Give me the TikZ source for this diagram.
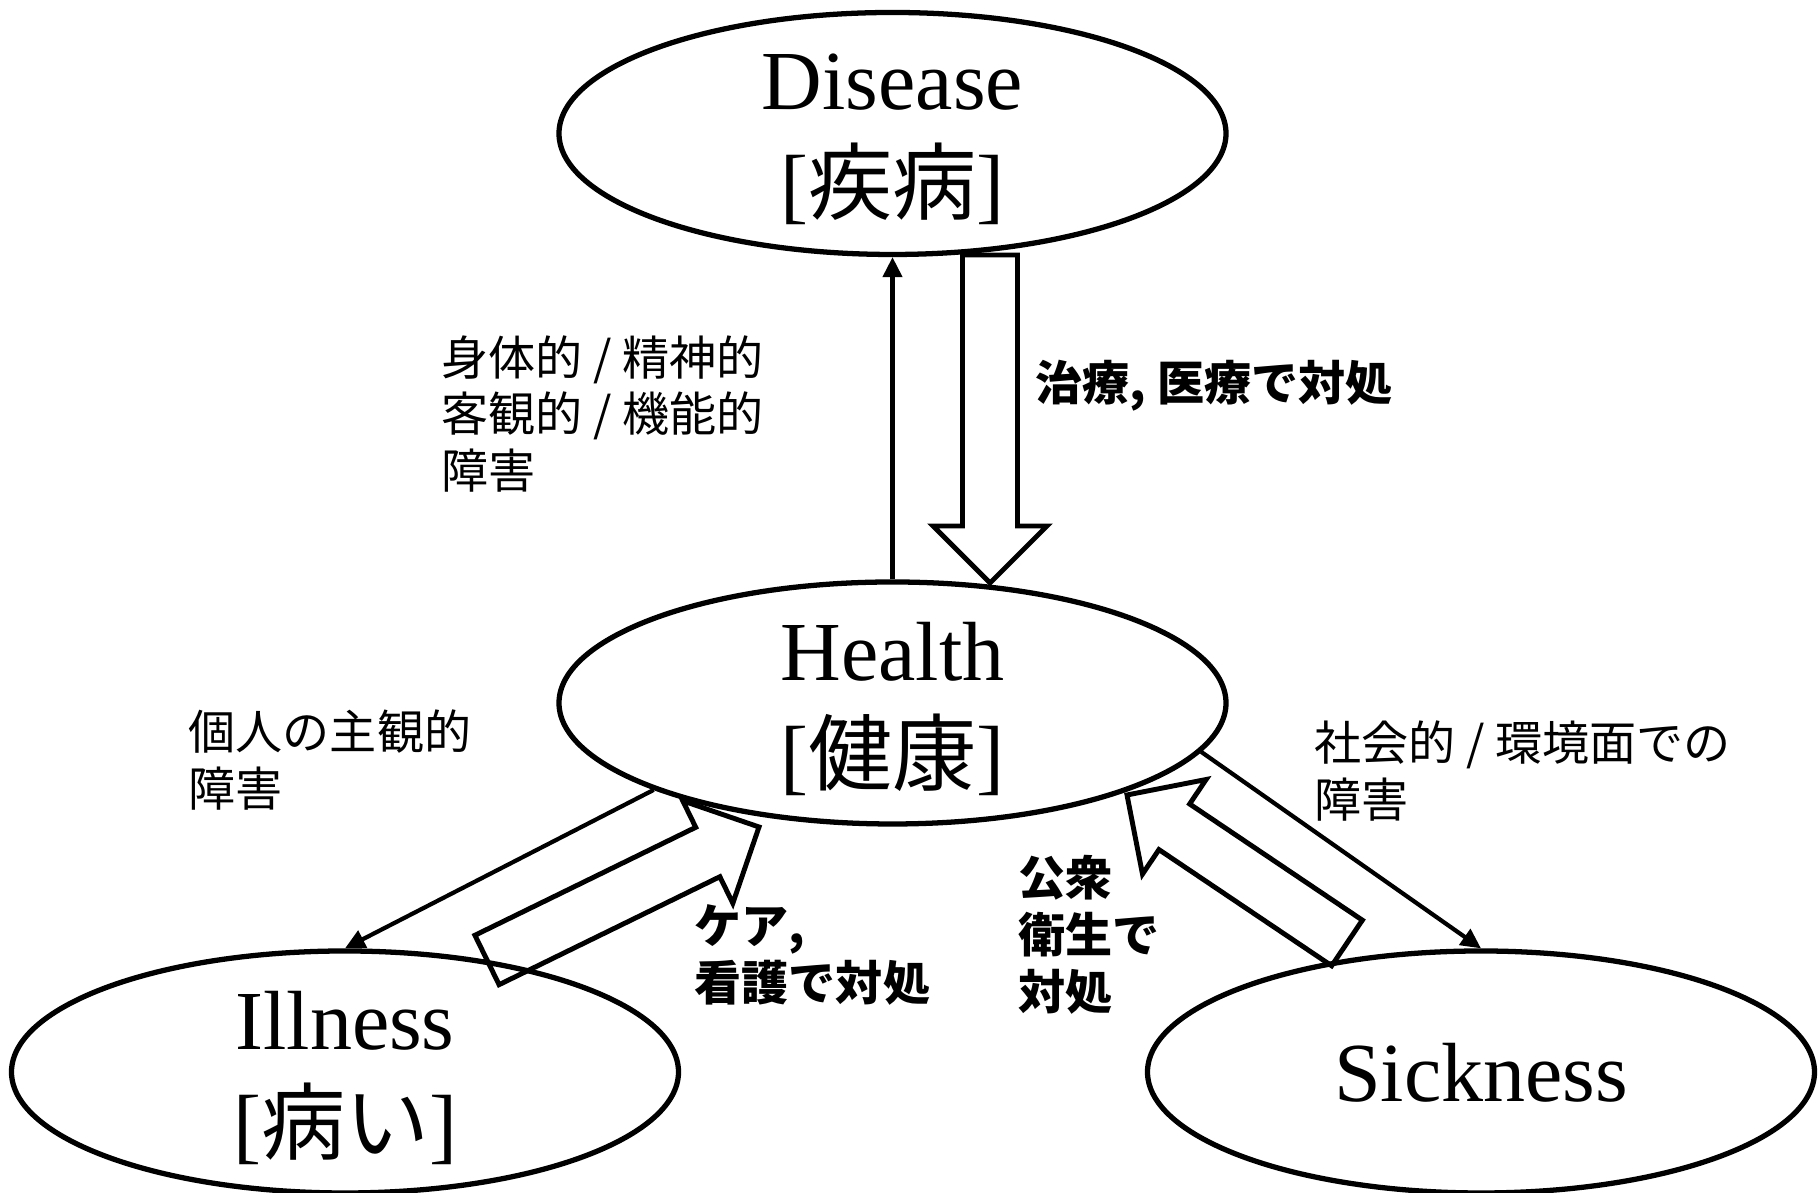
\documentclass[tikz,border=0pt]{standalone}
\usepackage{fontspec}
\setmainfont{Liberation Serif}
\newfontfamily\jpfont{Noto Sans CJK JP}
\usetikzlibrary{shapes.geometric,arrows.meta,calc}

\newcommand{\fatarrow}[2]{%
  \coordinate (fa-base) at ($(#2)!0.57cm!(#1)$);
  \draw[fat] ($(#1)!0.275cm!90:(#2)$) -- ($(fa-base)!0.275cm!90:(#2)$)
    -- ($(fa-base)!0.57cm!90:(#2)$) -- (#2) -- ($(fa-base)!0.57cm!-90:(#2)$)
    -- ($(fa-base)!0.275cm!-90:(#2)$) -- ($(#1)!0.275cm!-90:(#2)$) -- cycle;
}

\begin{document}
\begin{tikzpicture}[
    oval/.style={draw, ellipse, line width=1.5pt, minimum width=6.67cm, minimum height=2.42cm,
      inner sep=0pt, text depth=0pt, align=center, font=\fontsize{23.9pt}{29.6pt}\selectfont},
    note/.style={anchor=west, align=left, inner sep=0pt, font=\jpfont\fontsize{13.4pt}{16.2pt}\selectfont},
    boldnote/.style={note, font=\jpfont\bfseries\fontsize{13.4pt}{16.2pt}\selectfont},
    link/.style={-{Triangle[length=0.2cm,width=0.19cm]}, line width=1.2pt},
    fat/.style={line width=1.4pt, line join=miter}]
            \useasboundingbox (0,0) rectangle (18.18,11.93);
            \node[oval] (disease) at (8.925,10.595) {Disease\\{[}{\jpfont 疾病}{]}};
            \node[oval] (health) at (8.925,4.90) {Health\\{[}{\jpfont 健康}{]}};
            \node[oval] (illness) at (3.45,1.21) {Illness\\{[}{\jpfont 病い}{]}};
            \node[oval] (sickness) at (14.81,1.21) {Sickness};
            \draw[link] (health.north) -- (disease.south);
            \draw[link] (health.200) -- (illness.north);
            \draw[link] (health.-9) -- (sickness.north);
            \coordinate (cure-tail) at (9.90,9.38);
            \coordinate (cure-tip) at (9.90,6.10);
            \coordinate (care-tail) at (4.87,2.33);
            \coordinate (care-tip) at (7.59,3.66);
            \coordinate (hygiene-tail) at (13.47,2.50);
            \coordinate (hygiene-tip) at (11.27,3.98);
            \fatarrow{cure-tail}{cure-tip}
            \fatarrow{care-tail}{care-tip}
            \fatarrow{hygiene-tail}{hygiene-tip}
            \node[note] (body) at (4.41,7.79) {身体的 / 精神的\\客観的 / 機能的\\障害};
            \node[boldnote] (cure) at (10.35,8.07) {治療, 医療で対処};
            \node[note] (personal) at (1.88,4.33) {個人の主観的\\障害};
            \node[boldnote] (care) at (6.94,2.38) {ケア,\\看護で対処};
            \node[note] (social) at (13.14,4.22) {社会的 / 環境面での\\障害};
            \node[boldnote] (hygiene) at (10.18,2.58) {公衆\\衛生で\\対処};
        \end{tikzpicture}
\end{document}
